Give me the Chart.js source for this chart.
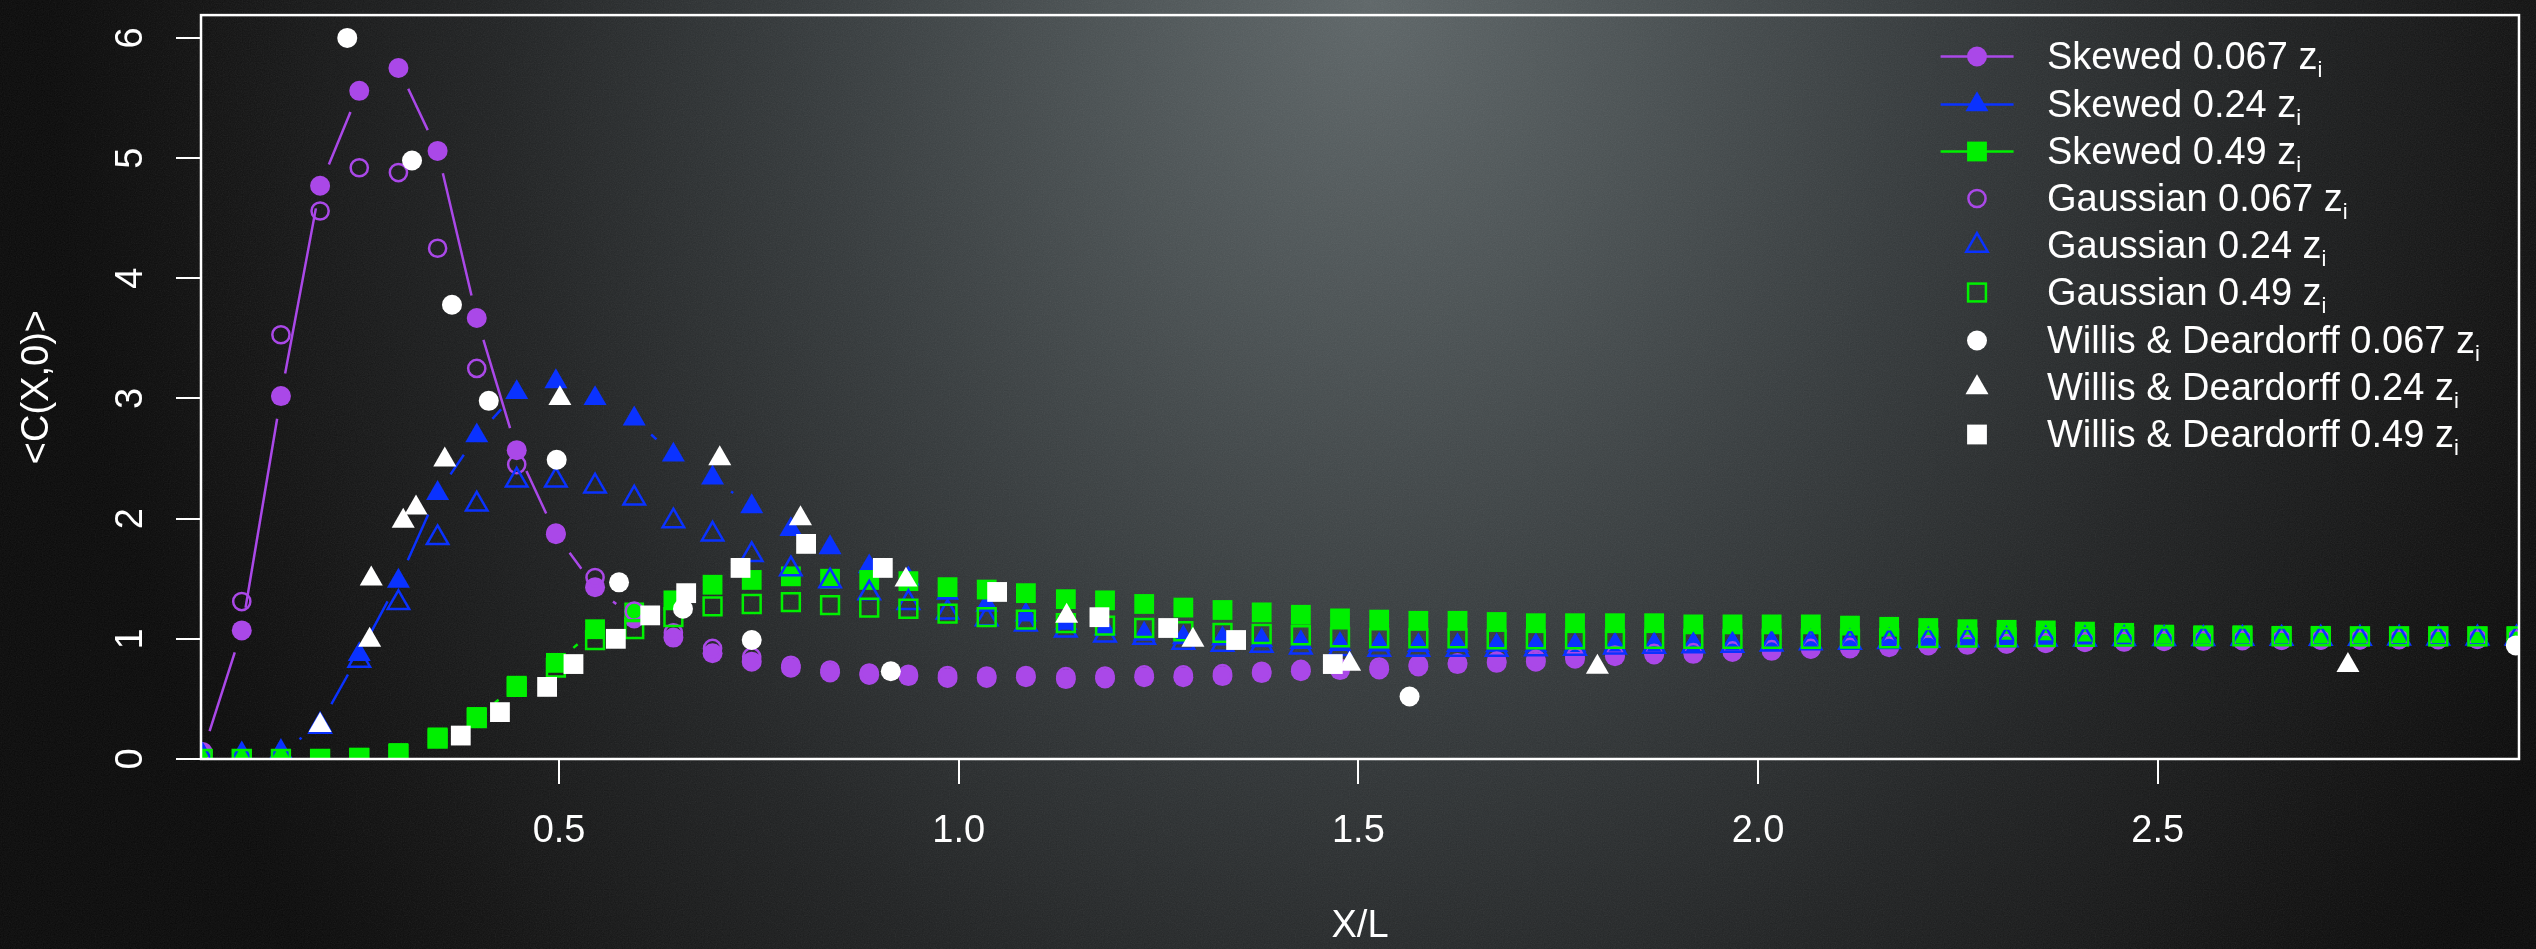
<!DOCTYPE html>
<html lang="en">
<head>
<meta charset="UTF-8" />
<title>C(X,0) vs X/L</title>
<script src="https://cdn.jsdelivr.net/npm/chart.js"></script>
<style>
  html, body { margin: 0; padding: 0; }
  body {
    width: 2536px;
    height: 949px;
    overflow: hidden;
    background-color: #0a0a0a;
    background-image:
      url("data:image/svg+xml;utf8,<svg xmlns='http://www.w3.org/2000/svg' width='400' height='400'><filter id='n'><feTurbulence type='fractalNoise' baseFrequency='0.85' numOctaves='2' stitchTiles='stitch'/><feColorMatrix type='saturate' values='0'/></filter><rect width='400' height='400' filter='url(%23n)' opacity='0.10'/></svg>"),
      radial-gradient(ellipse 52% 170% at 54% 0%, #5d6567 0%, #4a5153 20%, #34393b 42%, #1f2122 66%, #101010 88%, #080808 100%);
    font-family: 'Liberation Sans', Arial, Helvetica, sans-serif;
  }
  #wrap { position: relative; width: 2536px; height: 949px; }
  #legend {
    position: absolute;
    left: 1930px;
    top: 33.4px;
    color: #fff;
    font-size: 38px;
  }
  .row { display: flex; align-items: center; height: 47.2px; line-height: 47.2px; }
  .row svg { width: 110px; height: 47px; flex: none; }
  .row span { margin-left: 7px; white-space: nowrap; }
  .row sub { font-size: 22px; vertical-align: -8px; line-height: 0; }
</style>
</head>
<body>
<div id="wrap">
  <canvas id="chart"></canvas>
  <div id="legend"></div>
</div>

<script>
  // x grid shared by the model curves (X/L)
  const xs = [0.054, 0.103, 0.152, 0.201, 0.250, 0.299, 0.348, 0.397, 0.447, 0.496,
              0.545, 0.594, 0.643, 0.692, 0.741, 0.790, 0.839, 0.888, 0.937, 0.986,
              1.035, 1.084, 1.134, 1.183, 1.232, 1.281, 1.330, 1.379, 1.428, 1.477,
              1.526, 1.575, 1.624, 1.673, 1.722, 1.771, 1.821, 1.870, 1.919, 1.968,
              2.017, 2.066, 2.115, 2.164, 2.213, 2.262, 2.311, 2.360, 2.409, 2.458,
              2.508, 2.557, 2.606, 2.655, 2.704, 2.753, 2.802, 2.851, 2.900, 2.949];

  // skewed model
  const sk067 = [0.05, 1.07, 3.02, 4.77, 5.56, 5.75, 5.06, 3.67, 2.57, 1.87,
                 1.43, 1.17, 1.01, 0.88, 0.81, 0.76, 0.72, 0.70, 0.69, 0.675,
                 0.675, 0.68, 0.665, 0.67, 0.68, 0.68, 0.69, 0.715, 0.73, 0.74,
                 0.745, 0.77, 0.79, 0.80, 0.81, 0.835, 0.855, 0.87, 0.875, 0.89,
                 0.90, 0.915, 0.92, 0.93, 0.945, 0.95, 0.958, 0.963, 0.972, 0.975,
                 0.98, 0.983, 0.986, 0.988, 0.99, 0.992, 0.994, 0.995, 0.996, 0.997];
  const sk024 = [0.02, 0.03, 0.05, 0.29, 0.87, 1.48, 2.21, 2.69, 3.05, 3.14,
                 3.00, 2.83, 2.53, 2.34, 2.10, 1.91, 1.76, 1.60, 1.50, 1.38,
                 1.28, 1.20, 1.13, 1.08, 1.04, 1.01, 1.00, 0.985, 0.97, 0.955,
                 0.95, 0.945, 0.945, 0.945, 0.945, 0.945, 0.95, 0.95, 0.953, 0.958,
                 0.963, 0.968, 0.972, 0.978, 0.985, 0.99, 0.995, 1.00, 1.005, 1.01,
                 1.01, 1.01, 1.01, 1.01, 1.01, 1.01, 1.01, 1.01, 1.01, 1.01];
  const sk049 = [0.00, 0.00, 0.00, 0.00, 0.01, 0.05, 0.18, 0.35, 0.61, 0.80,
                 1.08, 1.22, 1.32, 1.45, 1.49, 1.52, 1.50, 1.49, 1.48, 1.43,
                 1.41, 1.38, 1.33, 1.32, 1.29, 1.26, 1.24, 1.22, 1.20, 1.17,
                 1.16, 1.15, 1.15, 1.14, 1.13, 1.13, 1.13, 1.13, 1.12, 1.12,
                 1.12, 1.12, 1.11, 1.10, 1.09, 1.08, 1.075, 1.07, 1.06, 1.05,
                 1.035, 1.03, 1.03, 1.025, 1.025, 1.02, 1.02, 1.02, 1.02, 1.02];

  // gaussian model
  const ga067 = [0.06, 1.31, 3.53, 4.56, 4.92, 4.88, 4.25, 3.25, 2.45, 1.88,
                 1.51, 1.23, 1.05, 0.92, 0.85, 0.78, 0.74, 0.715, 0.705, 0.695,
                 0.69, 0.695, 0.685, 0.69, 0.70, 0.70, 0.71, 0.73, 0.745, 0.755,
                 0.765, 0.785, 0.80, 0.815, 0.83, 0.85, 0.865, 0.88, 0.885, 0.90,
                 0.91, 0.92, 0.93, 0.94, 0.95, 0.955, 0.96, 0.967, 0.975, 0.978,
                 0.983, 0.986, 0.989, 0.99, 0.992, 0.994, 0.996, 0.997, 0.998, 0.999];
  const ga024 = [0.02, 0.03, 0.05, 0.27, 0.82, 1.30, 1.84, 2.12, 2.32, 2.32,
                 2.27, 2.17, 1.98, 1.87, 1.70, 1.58, 1.48, 1.38, 1.30, 1.22,
                 1.165, 1.12, 1.07, 1.03, 1.01, 0.97, 0.953, 0.945, 0.93, 0.917,
                 0.91, 0.91, 0.91, 0.91, 0.915, 0.92, 0.93, 0.935, 0.94, 0.945,
                 0.955, 0.964, 0.97, 0.975, 0.985, 0.99, 0.99, 0.995, 0.997, 1.00,
                 1.00, 1.00, 1.002, 1.002, 1.003, 1.003, 1.004, 1.004, 1.005, 1.005];
  const ga049 = [0.00, 0.00, 0.00, 0.00, 0.01, 0.04, 0.17, 0.34, 0.60, 0.76,
                 0.99, 1.08, 1.18, 1.27, 1.29, 1.305, 1.28, 1.26, 1.25, 1.21,
                 1.18, 1.16, 1.13, 1.11, 1.09, 1.063, 1.05, 1.04, 1.03, 1.013,
                 1.005, 1.005, 1.005, 0.995, 0.995, 0.995, 1.00, 1.00, 1.00, 1.00,
                 1.00, 1.00, 1.002, 1.005, 1.007, 1.01, 1.012, 1.014, 1.016, 1.018,
                 1.02, 1.02, 1.02, 1.02, 1.02, 1.02, 1.02, 1.02, 1.02, 1.02];

  // Willis & Deardorff tank data
  const wdCircX = [0.235, 0.316, 0.366, 0.412, 0.497, 0.575, 0.655, 0.741, 0.915, 1.564, 2.948];
  const wdCircY = [6.00, 4.98, 3.78, 2.98, 2.49, 1.47, 1.25, 0.99, 0.73, 0.52, 0.945];
  const wdTriX  = [0.201, 0.263, 0.265, 0.305, 0.321, 0.357, 0.501, 0.701, 0.802, 0.934, 1.135, 1.293, 1.489, 1.799, 2.738];
  const wdTriY  = [0.28, 0.99, 1.50, 1.98, 2.09, 2.49, 3.00, 2.50, 2.00, 1.49, 1.19, 0.99, 0.79, 0.765, 0.78];
  const wdSqX   = [0.377, 0.426, 0.485, 0.518, 0.571, 0.614, 0.659, 0.727, 0.809, 0.905, 1.048, 1.176, 1.262, 1.347, 1.468];
  const wdSqY   = [0.195, 0.39, 0.60, 0.79, 1.00, 1.195, 1.38, 1.59, 1.79, 1.59, 1.39, 1.18, 1.09, 0.99, 0.79];

  const xTicks = [0.5, 1.0, 1.5, 2.0, 2.5];
  const yTicks = [0, 1, 2, 3, 4, 5, 6];

  const PURPLE = '#aa48e8';
  const BLUE = '#0a32ff';
  const GREEN = '#00f000';
  const WHITE = '#ffffff';

  const pairs = (xv, yv) => xv.map((x, i) => ({ x: x, y: yv[i] }));

  // series spec: label, values, colour, marker, filled?, line?
  const series = [
    { label: 'Skewed 0.067', data: pairs(xs, sk067), color: PURPLE, shape: 'circle',   filled: true,  line: true },
    { label: 'Skewed 0.24',  data: pairs(xs, sk024), color: BLUE,   shape: 'triangle', filled: true,  line: true },
    { label: 'Skewed 0.49',  data: pairs(xs, sk049), color: GREEN,  shape: 'rect',     filled: true,  line: true },
    { label: 'Gaussian 0.067', data: pairs(xs, ga067), color: PURPLE, shape: 'circle',   filled: false },
    { label: 'Gaussian 0.24',  data: pairs(xs, ga024), color: BLUE,   shape: 'triangle', filled: false },
    { label: 'Gaussian 0.49',  data: pairs(xs, ga049), color: GREEN,  shape: 'rect',     filled: false },
    { label: 'Willis & Deardorff 0.067', data: pairs(wdCircX, wdCircY), color: WHITE, shape: 'circle',   filled: true },
    { label: 'Willis & Deardorff 0.24',  data: pairs(wdTriX, wdTriY),   color: WHITE, shape: 'triangle', filled: true },
    { label: 'Willis & Deardorff 0.49',  data: pairs(wdSqX, wdSqY),     color: WHITE, shape: 'rect',     filled: true }
  ];

  function markerRadius(shape, filled) {
    if (shape === 'circle') return filled ? 10 : 8.6;
    if (shape === 'triangle') return filled ? 13.3 : 12.4;
    return filled ? 14 : 12.6;
  }

  // R style type="b": segments between points, trimmed so they never touch the markers
  const gapLines = {
    id: 'gapLines',
    beforeDatasetDraw(chart, args) {
      const ds = chart.data.datasets[args.index];
      if (!ds.gapLine) return;
      const pts = args.meta.data;
      const a = chart.chartArea;
      const ctx = chart.ctx;
      const gap = 23;
      ctx.save();
      ctx.beginPath();
      ctx.rect(a.left, a.top, a.right - a.left, a.bottom - a.top);
      ctx.clip();
      ctx.strokeStyle = ds.borderColor;
      ctx.lineWidth = 2.5;
      ctx.beginPath();
      for (let i = 1; i < pts.length; i++) {
        const p0 = pts[i - 1], p1 = pts[i];
        const dx = p1.x - p0.x, dy = p1.y - p0.y;
        const d = Math.hypot(dx, dy);
        if (d <= 2 * gap) continue;
        const ux = dx / d, uy = dy / d;
        ctx.moveTo(p0.x + ux * gap, p0.y + uy * gap);
        ctx.lineTo(p1.x - ux * gap, p1.y - uy * gap);
      }
      ctx.stroke();
      ctx.restore();
    }
  };

  // white frame round the plotting region
  const frame = {
    id: 'frame',
    afterDraw(chart) {
      const a = chart.chartArea;
      const ctx = chart.ctx;
      ctx.save();
      ctx.strokeStyle = '#ffffff';
      ctx.lineWidth = 2.5;
      ctx.strokeRect(a.left, a.top, a.right - a.left, a.bottom - a.top);
      ctx.restore();
    }
  };

  const datasets = series.map((s, i) => ({
    label: s.label,
    data: s.data,
    order: series.length - i,       // later series drawn on top, as in R
    gapLine: !!s.line,
    showLine: false,
    borderColor: s.color,
    backgroundColor: s.color,
    pointStyle: s.shape,
    pointRadius: markerRadius(s.shape, s.filled),
    pointBackgroundColor: s.filled ? s.color : 'rgba(0,0,0,0)',
    pointBorderColor: s.color,
    pointBorderWidth: s.filled ? 0 : 2.5,
    clip: 0
  }));

  Chart.defaults.font.family = "'Liberation Sans', Arial, Helvetica, sans-serif";
  Chart.defaults.color = '#ffffff';

  const canvas = document.getElementById('chart');
  canvas.width = 2536;
  canvas.height = 949;

  new Chart(canvas, {
    type: 'scatter',
    data: { datasets: datasets },
    options: {
      responsive: false,
      animation: false,
      events: [],
      layout: { padding: { top: 10, right: 17, left: 0, bottom: 0 } },
      plugins: {
        legend: { display: false },
        tooltip: { enabled: false }
      },
      scales: {
        x: {
          type: 'linear',
          min: 0.052,
          max: 2.952,
          afterBuildTicks: s => { s.ticks = xTicks.map(v => ({ value: v })); },
          afterFit: s => { s.height = 190; s.paddingLeft = 0; s.paddingRight = 0; },
          ticks: {
            color: '#ffffff',
            font: { size: 38 },
            padding: 25,
            maxRotation: 0,
            callback: v => Number(v).toFixed(1)
          },
          grid: {
            drawOnChartArea: false,
            drawTicks: true,
            tickLength: 25,
            color: '#ffffff',
            lineWidth: 2
          },
          border: { display: false },
          title: {
            display: true,
            text: 'X/L',
            color: '#ffffff',
            font: { size: 38 },
            padding: { top: 0, bottom: 0 }
          }
        },
        y: {
          type: 'linear',
          min: 0,
          max: 6.19,
          afterBuildTicks: s => { s.ticks = yTicks.map(v => ({ value: v })); },
          afterFit: s => { s.width = 201; s.paddingTop = 0; s.paddingBottom = 0; },
          ticks: {
            color: '#ffffff',
            font: { size: 38 },
            padding: 34,
            minRotation: 90,
            maxRotation: 90,
            crossAlign: 'center',
            callback: v => String(v)
          },
          grid: {
            drawOnChartArea: false,
            drawTicks: true,
            tickLength: 25,
            color: '#ffffff',
            lineWidth: 2
          },
          border: { display: false },
          title: {
            display: true,
            text: '<C(X,0)>',
            color: '#ffffff',
            font: { size: 38 },
            padding: { top: 15, bottom: 0 }
          }
        }
      }
    },
    plugins: [gapLines, frame]
  });

  // legend: marker (with line for the skewed curves) and label with subscript i
  function symbolSvg(s) {
    const cx = 47, cy = 23.5;
    const fill = s.filled ? s.color : 'none';
    const stroke = s.filled ? 'none' : s.color;
    const r = markerRadius(s.shape, s.filled);
    let out = '';
    if (s.line) {
      out += `<line x1="10.6" y1="${cy}" x2="83.6" y2="${cy}" stroke="${s.color}" stroke-width="2.5"/>`;
    }
    if (s.shape === 'circle') {
      out += `<circle cx="${cx}" cy="${cy}" r="${r}" fill="${fill}" stroke="${stroke}" stroke-width="2.5"/>`;
    } else if (s.shape === 'triangle') {
      const p = [[cx, cy - r], [cx + 0.866 * r, cy + 0.5 * r], [cx - 0.866 * r, cy + 0.5 * r]];
      out += `<polygon points="${p.map(q => q.join(',')).join(' ')}" fill="${fill}" stroke="${stroke}" stroke-width="2.5"/>`;
    } else {
      const h = r * Math.SQRT1_2;
      out += `<rect x="${cx - h}" y="${cy - h}" width="${2 * h}" height="${2 * h}" fill="${fill}" stroke="${stroke}" stroke-width="2.5"/>`;
    }
    return `<svg viewBox="0 0 110 47">${out}</svg>`;
  }

  const legend = document.getElementById('legend');
  series.forEach(s => {
    const row = document.createElement('div');
    row.className = 'row';
    const label = s.label.replace('&', '&amp;');
    row.innerHTML = symbolSvg(s) + `<span>${label} z<sub>i</sub></span>`;
    legend.appendChild(row);
  });
</script>
</body>
</html>
